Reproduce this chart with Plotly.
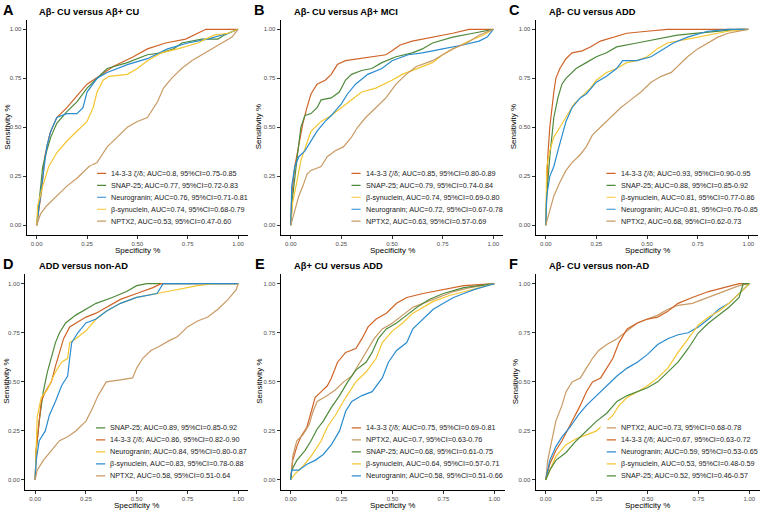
import plotly.graph_objects as go

# ---------------- colours ----------------
C_1433 = "#CF6428"
C_SNAP = "#4F8A3C"
C_NRGN = "#2A8BCF"
C_BSYN = "#F4C631"
C_NPTX = "#C99A64"

tick_vals = [0, 0.25, 0.5, 0.75, 1.0]
tick_text = ["0.00", "0.25", "0.50", "0.75", "1.00"]

panel_letters = ["A", "B", "C", "D", "E", "F"]
panel_titles = ["Aβ- CU versus Aβ+ CU", "Aβ- CU versus Aβ+ MCI", "Aβ- CU versus ADD",
                "ADD versus non-AD", "Aβ+ CU versus ADD", "Aβ- CU versus non-AD"]

# ---------------- data: [specificity, sensitivity] pairs ----------------
# Panel A
a_1433 = [[0,0],[0.01,0.08],[0.025,0.18],[0.04,0.35],[0.066,0.47],[0.1,0.55],[0.15,0.6],[0.2,0.66],[0.25,0.72],
          [0.31,0.76],[0.38,0.81],[0.48,0.86],[0.55,0.9],[0.64,0.93],[0.74,0.95],[0.84,1.0],[1,1]]
a_snap = [[0,0],[0.01,0.1],[0.03,0.3],[0.05,0.38],[0.07,0.45],[0.1,0.52],[0.15,0.58],[0.2,0.63],[0.25,0.7],
          [0.3,0.75],[0.35,0.8],[0.45,0.83],[0.55,0.87],[0.62,0.88],[0.68,0.9],[0.72,0.93],[0.82,0.95],
          [0.9,0.95],[0.93,0.97],[1,1]]
a_nrgn = [[0,0],[0.01,0.08],[0.03,0.25],[0.05,0.4],[0.07,0.48],[0.1,0.55],[0.15,0.57],[0.2,0.57],[0.23,0.6],
          [0.25,0.68],[0.3,0.75],[0.35,0.78],[0.45,0.82],[0.55,0.85],[0.65,0.9],[0.75,0.93],[0.85,0.95],
          [0.95,0.98],[1,1]]
a_bsyn = [[0,0],[0.005,0.1],[0.03,0.2],[0.06,0.3],[0.1,0.37],[0.15,0.43],[0.2,0.48],[0.25,0.53],[0.28,0.6],
          [0.3,0.68],[0.33,0.74],[0.36,0.76],[0.45,0.77],[0.5,0.8],[0.55,0.84],[0.62,0.88],[0.7,0.9],
          [0.8,0.93],[0.88,0.97],[0.95,0.98],[1,1]]
a_nptx = [[0,0],[0.02,0.06],[0.05,0.1],[0.1,0.15],[0.15,0.2],[0.2,0.24],[0.26,0.3],[0.3,0.32],[0.35,0.4],
          [0.4,0.45],[0.45,0.5],[0.5,0.53],[0.55,0.55],[0.6,0.63],[0.63,0.7],[0.67,0.75],[0.72,0.8],
          [0.77,0.84],[0.82,0.87],[0.87,0.9],[0.92,0.93],[0.97,0.96],[1,1]]
# Panel B
b_1433 = [[0,0],[0.005,0.15],[0.02,0.3],[0.04,0.42],[0.06,0.52],[0.08,0.6],[0.1,0.67],[0.13,0.72],[0.17,0.74],
          [0.2,0.77],[0.23,0.82],[0.27,0.84],[0.33,0.85],[0.4,0.86],[0.47,0.87],[0.5,0.89],[0.54,0.92],
          [0.6,0.94],[0.7,0.96],[0.8,0.98],[0.88,1.0],[1,1]]
b_snap = [[0,0],[0.01,0.15],[0.03,0.33],[0.05,0.5],[0.07,0.56],[0.1,0.57],[0.13,0.6],[0.15,0.64],[0.2,0.65],
          [0.24,0.68],[0.27,0.74],[0.3,0.77],[0.35,0.79],[0.4,0.8],[0.45,0.83],[0.52,0.86],[0.6,0.88],
          [0.65,0.9],[0.7,0.93],[0.8,0.96],[0.9,0.98],[1,1]]
b_bsyn = [[0,0],[0.01,0.12],[0.03,0.22],[0.05,0.33],[0.08,0.42],[0.1,0.48],[0.15,0.53],[0.2,0.56],[0.25,0.6],
          [0.3,0.64],[0.35,0.68],[0.42,0.7],[0.5,0.74],[0.55,0.77],[0.6,0.79],[0.7,0.83],[0.75,0.87],
          [0.8,0.9],[0.88,0.94],[0.95,0.97],[1,1]]
b_nrgn = [[0,0],[0.005,0.2],[0.02,0.3],[0.04,0.35],[0.07,0.38],[0.1,0.43],[0.13,0.48],[0.17,0.53],[0.2,0.56],
          [0.25,0.62],[0.28,0.67],[0.32,0.72],[0.38,0.77],[0.45,0.8],[0.5,0.84],[0.58,0.87],[0.65,0.88],
          [0.75,0.9],[0.85,0.92],[0.93,0.94],[0.97,0.96],[1,1]]
b_nptx = [[0,0],[0.02,0.08],[0.04,0.15],[0.06,0.2],[0.08,0.26],[0.1,0.28],[0.15,0.3],[0.18,0.35],[0.22,0.38],
          [0.26,0.4],[0.3,0.45],[0.33,0.5],[0.37,0.55],[0.42,0.6],[0.47,0.65],[0.52,0.72],[0.57,0.77],
          [0.62,0.81],[0.7,0.84],[0.75,0.87],[0.8,0.9],[0.87,0.93],[0.93,0.97],[1,1]]
# Panel C
c_1433 = [[0,0],[0.005,0.2],[0.01,0.35],[0.02,0.5],[0.03,0.6],[0.04,0.68],[0.05,0.75],[0.07,0.8],[0.1,0.85],
          [0.13,0.88],[0.18,0.89],[0.22,0.91],[0.27,0.94],[0.33,0.96],[0.4,0.98],[0.5,0.99],[0.6,1.0],[1,1]]
c_snap = [[0,0],[0.005,0.15],[0.02,0.35],[0.04,0.55],[0.06,0.65],[0.08,0.72],[0.1,0.75],[0.15,0.8],[0.2,0.83],
          [0.25,0.86],[0.3,0.88],[0.35,0.91],[0.45,0.93],[0.55,0.95],[0.65,0.97],[0.75,0.98],[0.85,0.99],
          [0.95,1.0],[1,1]]
c_bsyn = [[0,0],[0.005,0.3],[0.02,0.38],[0.04,0.45],[0.07,0.5],[0.1,0.55],[0.14,0.62],[0.18,0.66],[0.22,0.7],
          [0.25,0.74],[0.3,0.78],[0.35,0.8],[0.4,0.83],[0.45,0.84],[0.5,0.86],[0.55,0.9],[0.6,0.93],
          [0.7,0.95],[0.8,0.97],[0.9,0.99],[1,1]]
c_nrgn = [[0,0],[0.005,0.15],[0.02,0.25],[0.04,0.3],[0.06,0.38],[0.08,0.45],[0.1,0.53],[0.13,0.6],[0.17,0.65],
          [0.2,0.67],[0.25,0.73],[0.3,0.76],[0.35,0.8],[0.38,0.84],[0.45,0.84],[0.52,0.86],[0.58,0.9],
          [0.63,0.93],[0.7,0.96],[0.8,0.99],[0.9,1.0],[1,1]]
c_nptx = [[0,0],[0.02,0.08],[0.04,0.15],[0.07,0.22],[0.1,0.28],[0.13,0.32],[0.17,0.36],[0.2,0.4],[0.23,0.46],
          [0.27,0.5],[0.32,0.55],[0.37,0.6],[0.42,0.64],[0.47,0.68],[0.52,0.73],[0.57,0.76],[0.62,0.78],
          [0.66,0.82],[0.7,0.86],[0.75,0.9],[0.8,0.93],[0.85,0.96],[0.9,0.98],[1,1]]
# Panel D
d_snap = [[0,0],[0.005,0.15],[0.02,0.3],[0.04,0.45],[0.06,0.55],[0.08,0.62],[0.1,0.7],[0.12,0.75],[0.15,0.8],
          [0.2,0.84],[0.25,0.87],[0.3,0.9],[0.38,0.93],[0.45,0.96],[0.5,0.99],[0.55,1.0],[1,1]]
d_1433 = [[0,0],[0.005,0.15],[0.02,0.3],[0.03,0.4],[0.05,0.45],[0.08,0.5],[0.1,0.58],[0.12,0.65],[0.14,0.72],
          [0.17,0.78],[0.2,0.8],[0.25,0.83],[0.3,0.85],[0.35,0.88],[0.42,0.92],[0.5,0.95],[0.58,0.98],
          [0.62,1.0],[1,1]]
d_nrgn = [[0,0],[0.005,0.2],[0.01,0.32],[0.03,0.42],[0.06,0.46],[0.1,0.55],[0.13,0.6],[0.16,0.62],[0.17,0.7],
          [0.2,0.72],[0.25,0.76],[0.3,0.82],[0.35,0.86],[0.42,0.9],[0.5,0.93],[0.6,0.95],[0.7,0.97],
          [0.8,0.99],[0.88,1.0],[1,1]]
d_bsyn = [[0,0],[0.005,0.1],[0.02,0.2],[0.05,0.25],[0.07,0.33],[0.1,0.4],[0.13,0.48],[0.16,0.53],[0.17,0.62],
          [0.18,0.7],[0.21,0.75],[0.25,0.8],[0.3,0.82],[0.35,0.86],[0.42,0.9],[0.5,0.93],[0.6,0.95],
          [0.63,1.0],[1,1]]
d_nptx = [[0,0],[0.01,0.05],[0.04,0.1],[0.08,0.15],[0.12,0.2],[0.16,0.22],[0.2,0.25],[0.25,0.3],[0.28,0.36],
          [0.31,0.43],[0.35,0.5],[0.42,0.51],[0.48,0.52],[0.5,0.57],[0.53,0.62],[0.57,0.66],[0.61,0.68],
          [0.66,0.71],[0.7,0.73],[0.75,0.78],[0.8,0.81],[0.85,0.83],[0.9,0.87],[0.95,0.92],[0.99,0.97],[1,1]]
# Panel E
e_1433 = [[0,0],[0.01,0.1],[0.03,0.17],[0.05,0.22],[0.08,0.27],[0.1,0.35],[0.12,0.42],[0.15,0.45],[0.18,0.48],
          [0.2,0.52],[0.23,0.6],[0.27,0.65],[0.32,0.67],[0.35,0.72],[0.38,0.78],[0.42,0.82],[0.47,0.85],
          [0.52,0.9],[0.57,0.93],[0.65,0.95],[0.75,0.97],[0.85,0.99],[1,1]]
e_nptx = [[0,0],[0.01,0.12],[0.03,0.2],[0.06,0.23],[0.09,0.28],[0.11,0.35],[0.13,0.4],[0.18,0.43],[0.22,0.46],
          [0.26,0.5],[0.3,0.53],[0.33,0.58],[0.37,0.65],[0.41,0.72],[0.45,0.77],[0.5,0.8],[0.55,0.84],
          [0.6,0.88],[0.65,0.9],[0.7,0.92],[0.8,0.96],[0.88,0.98],[1,1]]
e_snap = [[0,0],[0.005,0.05],[0.03,0.1],[0.07,0.15],[0.1,0.2],[0.13,0.26],[0.16,0.3],[0.2,0.37],[0.24,0.43],
          [0.28,0.5],[0.32,0.56],[0.37,0.6],[0.4,0.65],[0.43,0.72],[0.47,0.77],[0.52,0.8],[0.57,0.84],
          [0.62,0.88],[0.68,0.92],[0.75,0.95],[0.85,0.98],[1,1]]
e_bsyn = [[0,0],[0.02,0.03],[0.06,0.07],[0.1,0.12],[0.15,0.2],[0.18,0.27],[0.22,0.33],[0.27,0.42],[0.32,0.5],
          [0.37,0.55],[0.42,0.62],[0.45,0.7],[0.5,0.76],[0.55,0.8],[0.6,0.85],[0.65,0.88],[0.7,0.91],
          [0.78,0.94],[0.85,0.96],[0.92,0.98],[1,1]]
e_nrgn = [[0,0],[0.005,0.05],[0.04,0.05],[0.08,0.08],[0.12,0.1],[0.16,0.13],[0.2,0.18],[0.24,0.25],[0.27,0.35],
          [0.3,0.4],[0.35,0.43],[0.4,0.45],[0.45,0.52],[0.48,0.6],[0.52,0.66],[0.57,0.7],[0.6,0.77],
          [0.65,0.82],[0.7,0.87],[0.75,0.9],[0.8,0.93],[0.85,0.95],[0.9,0.97],[1,1]]
# Panel F
f_nptx = [[0,0],[0.01,0.1],[0.03,0.2],[0.05,0.3],[0.08,0.38],[0.1,0.45],[0.13,0.5],[0.17,0.52],[0.2,0.57],
          [0.23,0.62],[0.26,0.66],[0.3,0.69],[0.35,0.72],[0.4,0.76],[0.45,0.8],[0.5,0.82],[0.55,0.84],
          [0.6,0.87],[0.65,0.89],[0.72,0.9],[0.8,0.93],[0.88,0.96],[0.95,0.99],[1,1]]
f_1433 = [[0,0],[0.02,0.08],[0.05,0.15],[0.08,0.2],[0.11,0.26],[0.14,0.32],[0.17,0.38],[0.2,0.45],[0.23,0.5],
          [0.27,0.52],[0.3,0.57],[0.33,0.62],[0.36,0.7],[0.4,0.77],[0.45,0.8],[0.5,0.82],[0.55,0.83],
          [0.6,0.86],[0.65,0.9],[0.72,0.93],[0.8,0.96],[0.88,0.98],[0.95,1.0],[1,1]]
f_nrgn = [[0,0],[0.02,0.1],[0.05,0.17],[0.08,0.22],[0.12,0.27],[0.16,0.33],[0.2,0.38],[0.25,0.43],[0.3,0.48],
          [0.35,0.53],[0.4,0.57],[0.45,0.6],[0.5,0.64],[0.55,0.69],[0.6,0.72],[0.65,0.74],[0.7,0.75],
          [0.75,0.78],[0.8,0.82],[0.85,0.87],[0.9,0.9],[0.95,0.95],[1,1]]
f_bsyn = [[0,0],[0.02,0.05],[0.05,0.12],[0.1,0.18],[0.15,0.21],[0.2,0.23],[0.25,0.25],[0.27,0.27],[0.33,0.33],
          [0.36,0.38],[0.4,0.42],[0.45,0.45],[0.5,0.48],[0.55,0.52],[0.6,0.57],[0.65,0.65],[0.7,0.72],
          [0.75,0.79],[0.8,0.83],[0.85,0.86],[0.9,0.9],[0.95,0.95],[1,1]]
f_snap = [[0,0],[0.02,0.05],[0.05,0.1],[0.1,0.14],[0.15,0.2],[0.2,0.25],[0.25,0.3],[0.3,0.34],[0.35,0.4],
          [0.4,0.43],[0.45,0.45],[0.5,0.47],[0.55,0.5],[0.6,0.55],[0.65,0.6],[0.7,0.67],[0.75,0.75],
          [0.8,0.8],[0.85,0.84],[0.9,0.88],[0.95,0.93],[0.97,1.0],[1,1]]

# legend labels (in drawn order)
labels_a = ["14-3-3 ζ/δ; AUC=0.8, 95%CI=0.75-0.85", "SNAP-25; AUC=0.77, 95%CI=0.72-0.83",
            "Neurogranin; AUC=0.76, 95%CI=0.71-0.81", "β-synuclein, AUC=0.74, 95%CI=0.68-0.79",
            "NPTX2, AUC=0.53, 95%CI=0.47-0.60"]
labels_b = ["14-3-3 ζ/δ; AUC=0.85, 95%CI=0.80-0.89", "SNAP-25; AUC=0.79, 95%CI=0.74-0.84",
            "β-synuclein, AUC=0.74, 95%CI=0.69-0.80", "Neurogranin; AUC=0.72, 95%CI=0.67-0.78",
            "NPTX2, AUC=0.63, 95%CI=0.57-0.69"]
labels_c = ["14-3-3 ζ/δ; AUC=0.93, 95%CI=0.90-0.95", "SNAP-25; AUC=0.88, 95%CI=0.85-0.92",
            "β-synuclein, AUC=0.81, 95%CI=0.77-0.86", "Neurogranin; AUC=0.81, 95%CI=0.76-0.85",
            "NPTX2, AUC=0.68, 95%CI=0.62-0.73"]
labels_d = ["SNAP-25; AUC=0.89, 95%CI=0.85-0.92", "14-3-3 ζ/δ; AUC=0.86, 95%CI=0.82-0.90",
            "Neurogranin; AUC=0.84, 95%CI=0.80-0.87", "β-synuclein, AUC=0.83, 95%CI=0.78-0.88",
            "NPTX2, AUC=0.58, 95%CI=0.51-0.64"]
labels_e = ["14-3-3 ζ/δ; AUC=0.75, 95%CI=0.69-0.81", "NPTX2, AUC=0.7, 95%CI=0.63-0.76",
            "SNAP-25; AUC=0.68, 95%CI=0.61-0.75", "β-synuclein, AUC=0.64, 95%CI=0.57-0.71",
            "Neurogranin; AUC=0.58, 95%CI=0.51-0.66"]
labels_f = ["NPTX2, AUC=0.73, 95%CI=0.68-0.78", "14-3-3 ζ/δ; AUC=0.67, 95%CI=0.63-0.72",
            "Neurogranin; AUC=0.59, 95%CI=0.53-0.65", "β-synuclein, AUC=0.53, 95%CI=0.48-0.59",
            "SNAP-25; AUC=0.52, 95%CI=0.46-0.57"]

colors_a = [C_1433, C_SNAP, C_NRGN, C_BSYN, C_NPTX]
colors_b = [C_1433, C_SNAP, C_BSYN, C_NRGN, C_NPTX]
colors_c = [C_1433, C_SNAP, C_BSYN, C_NRGN, C_NPTX]
colors_d = [C_SNAP, C_1433, C_BSYN, C_NRGN, C_NPTX]
colors_e = [C_1433, C_NPTX, C_SNAP, C_BSYN, C_NRGN]
colors_f = [C_NPTX, C_1433, C_NRGN, C_BSYN, C_SNAP]

curves_a = [a_1433, a_snap, a_nrgn, a_bsyn, a_nptx]
curves_b = [b_1433, b_snap, b_bsyn, b_nrgn, b_nptx]
curves_c = [c_1433, c_snap, c_bsyn, c_nrgn, c_nptx]
curves_d = [d_snap, d_1433, d_nrgn, d_bsyn, d_nptx]
curves_e = [e_1433, e_nptx, e_snap, e_bsyn, e_nrgn]
curves_f = [f_nptx, f_1433, f_nrgn, f_bsyn, f_snap]

# ---------------- layout geometry (pixels) ----------------
W, H = 760, 511
FONT = "Liberation Sans, Arial, sans-serif"
panel_px = [  # x0, x1, ytop, ybottom of the plotting area
    (26.6, 248.1, 19.5, 235.1),
    (280.6, 503.4, 19.5, 235.1),
    (535.6, 758.4, 19.5, 235.1),
    (25.0, 248.4, 273.9, 489.8),
    (280.5, 504.5, 273.9, 489.8),
    (535.5, 759.5, 273.9, 489.8),
]
letter_px = [(2, 10), (253, 10), (507.5, 10), (2, 264), (254, 264), (508, 264)]
title_px = [(38, 11.5), (293, 11.5), (548, 11.5), (38, 265.5), (293, 265.5), (548, 265.5)]
ytitle_x = [7.5, 258, 513, 7, 260, 515.5]

panels = [
    (labels_a, colors_a, curves_a), (labels_b, colors_b, curves_b), (labels_c, colors_c, curves_c),
    (labels_d, colors_d, curves_d), (labels_e, colors_e, curves_e), (labels_f, colors_f, curves_f),
]

legend_y = [0.265, 0.204, 0.143, 0.082, 0.021]

fig = go.Figure()
shapes = []
annotations = []
layout_axes = {}

def px_x(p):
    return p / W

def px_y(p):
    return 1 - p / H

for i, (labels, colors, curves) in enumerate(panels):
    n = i + 1
    xa = "x" if n == 1 else f"x{n}"
    ya = "y" if n == 1 else f"y{n}"
    x0, x1, yt, yb = panel_px[i]
    axis_common = dict(range=[-0.05, 1.05], tickvals=tick_vals, ticktext=tick_text, showgrid=False,
                       zeroline=False, showline=True, linecolor="black", linewidth=1, ticks="outside",
                       ticklen=3, tickwidth=1, tickcolor="#333333", automargin=False,
                       tickfont=dict(family=FONT, size=6, color="#4D4D4D"), fixedrange=True)
    layout_axes["xaxis" if n == 1 else f"xaxis{n}"] = dict(
        domain=[px_x(x0), px_x(x1)], anchor=ya, **axis_common)
    layout_axes["yaxis" if n == 1 else f"yaxis{n}"] = dict(
        domain=[px_y(yb), px_y(yt)], anchor=xa, **axis_common)

    for lab, col, pts in zip(labels, colors, curves):
        fig.add_trace(go.Scatter(x=[p[0] for p in pts], y=[p[1] for p in pts], mode="lines",
                                 line=dict(color=col, width=1.2), xaxis=xa, yaxis=ya,
                                 showlegend=False, hoverinfo="skip"))

    # legend background box and keys
    shapes.append(dict(type="rect", xref=xa, yref=ya, x0=0.27, x1=1.045, y0=-0.03, y1=0.305,
                       fillcolor="white", line=dict(width=0), layer="above"))
    for k, (lab, col) in enumerate(zip(labels, colors)):
        shapes.append(dict(type="line", xref=xa, yref=ya, x0=0.30, x1=0.345, y0=legend_y[k], y1=legend_y[k],
                           line=dict(color=col, width=1.2), layer="above"))
        annotations.append(dict(xref=xa, yref=ya, x=0.366, y=legend_y[k], text=lab, showarrow=False,
                                xanchor="left", yanchor="middle", borderpad=0,
                                font=dict(family=FONT, size=7.2, color="#1A1A1A")))

    # panel letter and title
    lx, ly = letter_px[i]
    annotations.append(dict(xref="paper", yref="paper", x=px_x(lx), y=px_y(ly), text=f"<b>{panel_letters[i]}</b>",
                            showarrow=False, xanchor="left", yanchor="middle", borderpad=0,
                            font=dict(family=FONT, size=14.5, color="black")))
    tx, ty = title_px[i]
    annotations.append(dict(xref="paper", yref="paper", x=px_x(tx), y=px_y(ty), text=f"<b>{panel_titles[i]}</b>",
                            showarrow=False, xanchor="left", yanchor="middle", borderpad=0,
                            font=dict(family=FONT, size=9.3, color="black")))
    # axis titles
    ymid = (yt + yb) / 2
    annotations.append(dict(xref="paper", yref="paper", x=px_x(ytitle_x[i]), y=px_y(ymid), text="Sensitivity %",
                            showarrow=False, textangle=-90, xanchor="center", yanchor="middle",
                            font=dict(family=FONT, size=8, color="black")))
    xmid = (x0 + x1) / 2
    annotations.append(dict(xref="paper", yref="paper", x=px_x(xmid), y=px_y(yb + 15.5), text="Specificity %",
                            showarrow=False, xanchor="center", yanchor="middle",
                            font=dict(family=FONT, size=8, color="black")))

fig.update_layout(width=W, height=H, margin=dict(l=0, r=0, t=0, b=0, autoexpand=False), paper_bgcolor="white",
                  plot_bgcolor="white", showlegend=False, shapes=shapes, annotations=annotations,
                  font=dict(family=FONT), **layout_axes)

fig.write_html("out.html", config={"displayModeBar": False, "staticPlot": True},
               post_script="document.body.style.margin='0';document.body.style.padding='0';document.body.style.overflow='hidden';")
